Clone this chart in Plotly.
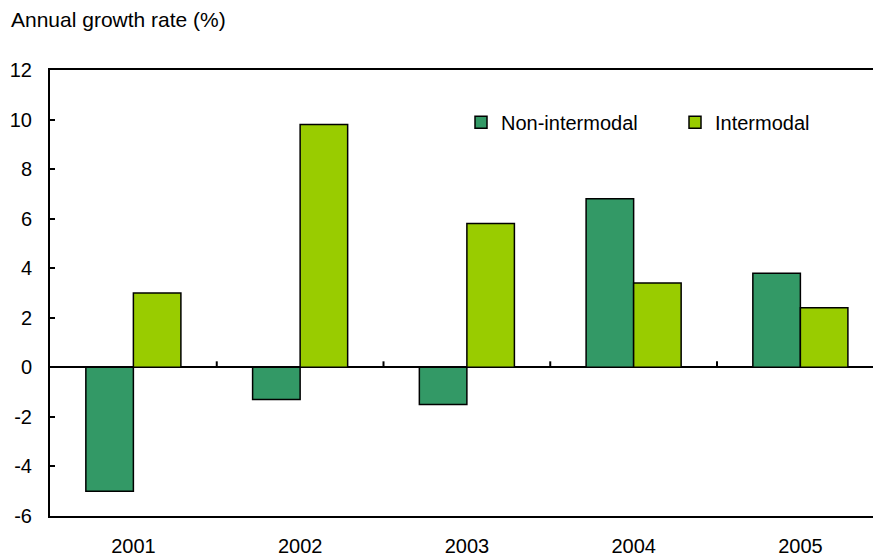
import plotly.graph_objects as go

# Annual growth rate by year, split by traffic type
years = ["2001", "2002", "2003", "2004", "2005"]
non_intermodal = [-5.0, -1.3, -1.5, 6.8, 3.8]
intermodal = [3.0, 9.8, 5.8, 3.4, 2.4]

y_ticks = [-6, -4, -2, 0, 2, 4, 6, 8, 10, 12]
y_tick_labels = [str(v) for v in y_ticks]  # plain hyphen minus signs

FONT = "Liberation Sans, Arial, sans-serif"
DARK_GREEN = "#339966"
LIGHT_GREEN = "#99CC00"

fig = go.Figure()
fig.add_trace(go.Bar(
    x=years, y=non_intermodal, name="Non-intermodal",
    marker=dict(color=DARK_GREEN, line=dict(color="black", width=1.5)),
))
fig.add_trace(go.Bar(
    x=years, y=intermodal, name="Intermodal",
    marker=dict(color=LIGHT_GREEN, line=dict(color="black", width=1.5)),
))

W, H = 873, 557
L, R, T, B = 50, 0, 70, 41
plot_w = W - L - R
plot_h = H - T - B
step = 166.75  # pixels per category
x_end = -0.5 + plot_w / step
y_min, y_max = -6, 12
tick_units = 6 * (y_max - y_min) / plot_h  # 6 px tall tick on the zero line

# small category-separator ticks rising from the zero line
separator_ticks = [
    dict(type="line", xref="x", yref="y",
         x0=i + 0.5, x1=i + 0.5, y0=0, y1=tick_units,
         line=dict(color="black", width=2))
    for i in range(len(years) - 1)
]

fig.update_layout(
    width=W, height=H,
    margin=dict(l=L, r=R, t=T, b=B, autoexpand=False),
    paper_bgcolor="white", plot_bgcolor="white",
    font=dict(family=FONT, size=20, color="black"),
    barmode="group", bargap=0.43, bargroupgap=0,
    showlegend=True,
    legend=dict(
        orientation="h", x=0.4994, y=0.883, xanchor="left", yanchor="middle",
        font=dict(size=20), bgcolor="rgba(0,0,0,0)",
        entrywidth=169, entrywidthmode="pixels", traceorder="normal",
    ),
    xaxis=dict(
        range=[-0.5, x_end], autorange=False,
        showline=True, linecolor="black", linewidth=2, mirror=True,
        ticks="", showgrid=False, zeroline=False,
        tickfont=dict(size=20), ticklabelstandoff=11, automargin=False,
        domain=[0, 1],
    ),
    yaxis=dict(
        range=[y_min, y_max], autorange=False,
        tickvals=y_ticks, ticktext=y_tick_labels,
        showline=True, linecolor="black", linewidth=2,
        ticks="inside", ticklen=5, tickwidth=1.5, tickcolor="black",
        showgrid=False, zeroline=True, zerolinecolor="black", zerolinewidth=1.5,
        tickfont=dict(size=20), ticklabelstandoff=12, automargin=False,
    ),
    shapes=separator_ticks,
    annotations=[dict(
        text="Annual growth rate (%)", xref="paper", yref="paper",
        x=-L / plot_w + 9 / plot_w, y=1 + 50 / plot_h,
        xanchor="left", yanchor="middle", showarrow=False,
        font=dict(size=21, family=FONT),
    )],
)

fig.write_html("out.html")
